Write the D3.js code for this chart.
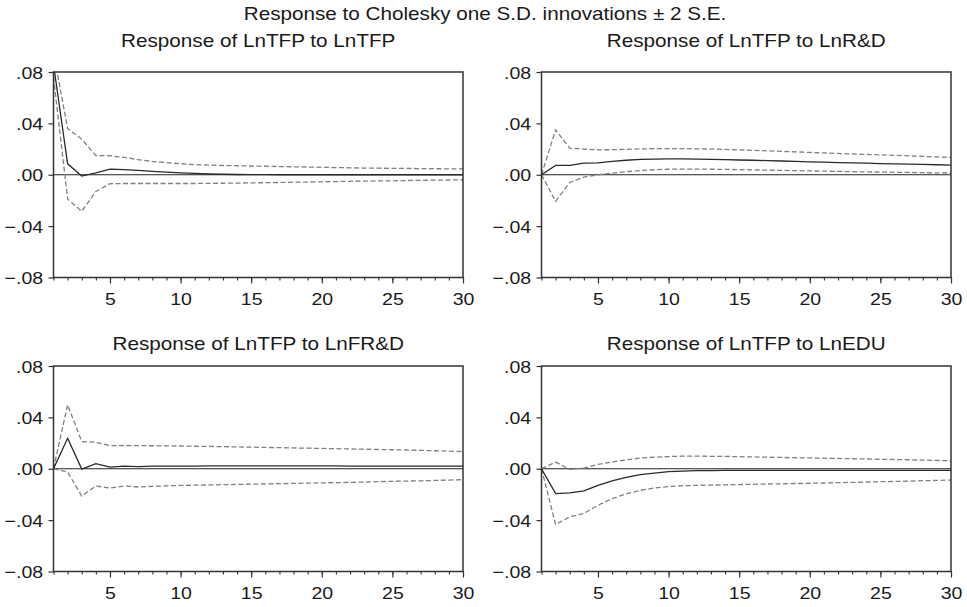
<!DOCTYPE html>
<html>
<head>
<meta charset="utf-8">
<script src="https://cdn.jsdelivr.net/npm/d3@7"></script>
<style>
  body { margin: 0; background: #fff; }
  svg text { font-family: "Liberation Sans", Arial, sans-serif; fill: #1a1a1a; }
</style>
</head>
<body>
<svg id="chart" width="967" height="607"></svg>
<script>
// periods 1..30 of the impulse response
const periods = d3.range(1, 31);
const yTicks = [0.08, 0.04, 0, -0.04, -0.08];
const xTicks = [5, 10, 15, 20, 25, 30];

const mainTitle = 'Response to Cholesky one S.D. innovations \u00b1 2 S.E.';
const panelTitles = [
    'Response of LnTFP to LnTFP',
    'Response of LnTFP to LnR&D',
    'Response of LnTFP to LnFR&D',
    'Response of LnTFP to LnEDU'
];

// LnTFP -> LnTFP
const tfpResp = [0.086, 0.0085, -0.001, 0.0015, 0.0044, 0.0040, 0.0034, 0.0027, 0.0020, 0.0014,
    0.0010, 0.0006, 0.0004, 0.0002, 0.0001, 0.0001, 0.0000, 0.0000, 0.0000, 0.0000,
    0.0000, 0.0000, 0.0000, 0.0000, 0.0000, 0.0000, 0.0000, 0.0000, 0.0000, 0.0000];
const tfpUpper = [0.095, 0.036, 0.0277, 0.0150, 0.0148, 0.0135, 0.0118, 0.0104, 0.0094, 0.0086,
    0.0079, 0.0075, 0.0072, 0.0070, 0.0068, 0.0066, 0.0064, 0.0062, 0.0060, 0.0058,
    0.0056, 0.0054, 0.0052, 0.0051, 0.0050, 0.0049, 0.0048, 0.0047, 0.0046, 0.0045];
const tfpLower = [0.076, -0.0189, -0.0285, -0.0130, -0.0070, -0.0068, -0.0068, -0.0068, -0.0068, -0.0068,
    -0.0068, -0.0067, -0.0066, -0.0065, -0.0063, -0.0062, -0.0060, -0.0058, -0.0057, -0.0055,
    -0.0053, -0.0051, -0.0050, -0.0048, -0.0047, -0.0045, -0.0044, -0.0042, -0.0041, -0.0039];

// LnTFP -> LnR&D
const rdResp = [0, 0.0073, 0.0073, 0.0090, 0.0093, 0.0104, 0.0113, 0.0119, 0.0122, 0.0124,
    0.0124, 0.0122, 0.0120, 0.0118, 0.0115, 0.0113, 0.0110, 0.0107, 0.0104, 0.0101,
    0.0098, 0.0095, 0.0092, 0.0090, 0.0087, 0.0085, 0.0082, 0.0080, 0.0078, 0.0075];
const rdUpper = [0, 0.0350, 0.0207, 0.0200, 0.0194, 0.0195, 0.0198, 0.0201, 0.0203, 0.0204,
    0.0204, 0.0202, 0.0200, 0.0197, 0.0194, 0.0190, 0.0186, 0.0182, 0.0178, 0.0174,
    0.0170, 0.0166, 0.0162, 0.0158, 0.0155, 0.0151, 0.0147, 0.0143, 0.0139, 0.0135];
const rdLower = [0, -0.0207, -0.0060, -0.0018, 0.0000, 0.0013, 0.0023, 0.0033, 0.0039, 0.0043,
    0.0044, 0.0044, 0.0043, 0.0042, 0.0040, 0.0038, 0.0036, 0.0034, 0.0032, 0.0030,
    0.0028, 0.0026, 0.0024, 0.0022, 0.0021, 0.0019, 0.0018, 0.0016, 0.0015, 0.0013];

// LnTFP -> LnFR&D
const frdResp = [0, 0.0237, -0.0003, 0.0039, 0.0013, 0.0020, 0.0017, 0.0020, 0.0020, 0.0021,
    0.0021, 0.0022, 0.0022, 0.0022, 0.0022, 0.0022, 0.0022, 0.0022, 0.0022, 0.0022,
    0.0022, 0.0021, 0.0021, 0.0021, 0.0021, 0.0021, 0.0021, 0.0020, 0.0020, 0.0020];
const frdUpper = [0, 0.0498, 0.0212, 0.0206, 0.0180, 0.0181, 0.0180, 0.0179, 0.0178, 0.0177,
    0.0175, 0.0174, 0.0172, 0.0170, 0.0168, 0.0166, 0.0164, 0.0162, 0.0160, 0.0158,
    0.0156, 0.0154, 0.0152, 0.0150, 0.0148, 0.0146, 0.0143, 0.0140, 0.0137, 0.0134];
const frdLower = [0, -0.0026, -0.0212, -0.0134, -0.0150, -0.0134, -0.0142, -0.0137, -0.0133, -0.0130,
    -0.0128, -0.0126, -0.0124, -0.0122, -0.0120, -0.0118, -0.0116, -0.0114, -0.0112, -0.0110,
    -0.0108, -0.0106, -0.0104, -0.0101, -0.0098, -0.0096, -0.0094, -0.0091, -0.0088, -0.0085];

// LnTFP -> LnEDU
const eduResp = [0, -0.0194, -0.0188, -0.0173, -0.0129, -0.0095, -0.0067, -0.0046, -0.0034, -0.0023,
    -0.0018, -0.0015, -0.0014, -0.0013, -0.0013, -0.0013, -0.0013, -0.0013, -0.0013, -0.0013,
    -0.0012, -0.0012, -0.0012, -0.0012, -0.0012, -0.0012, -0.0012, -0.0012, -0.0012, -0.0012];
const eduUpper = [0, 0.0052, -0.0005, 0.0005, 0.0034, 0.0052, 0.0070, 0.0083, 0.0090, 0.0095,
    0.0098, 0.0098, 0.0097, 0.0096, 0.0094, 0.0092, 0.0090, 0.0088, 0.0086, 0.0084,
    0.0082, 0.0080, 0.0078, 0.0076, 0.0074, 0.0072, 0.0070, 0.0067, 0.0065, 0.0062];
const eduLower = [0, -0.0434, -0.0374, -0.0348, -0.0284, -0.0232, -0.0196, -0.0168, -0.0150, -0.0139,
    -0.0132, -0.0129, -0.0127, -0.0125, -0.0123, -0.0121, -0.0119, -0.0117, -0.0115, -0.0113,
    -0.0111, -0.0108, -0.0106, -0.0104, -0.0101, -0.0099, -0.0096, -0.0093, -0.0091, -0.0088];

const seriesList = [
    [tfpResp, tfpUpper, tfpLower],
    [rdResp, rdUpper, rdLower],
    [frdResp, frdUpper, frdLower],
    [eduResp, eduUpper, eduLower]
];

// plot boxes (left, top) for the 2x2 grid
const panelBoxes = [
    {x: 53.5, y: 72},
    {x: 541.5, y: 72},
    {x: 53.5, y: 366},
    {x: 541.5, y: 366}
];
const plotW = 409.5;
const plotH = 205.5;
const titleBaselines = [47, 47, 350, 350];
const textStretch = 1.15; // the reference type is a bit wide

const svg = d3.select('#chart');

function stretchedText(sel, x, y, str, size) {
    sel.append('text')
        .attr('transform', `translate(${x},${y}) scale(${textStretch},1)`)
        .attr('text-anchor', 'middle')
        .style('font-size', size + 'px')
        .text(str);
}

stretchedText(svg, 485, 19.5, mainTitle, 18);

const fmtTick = d => {
    if (d === 0) return '.00';
    let s = Math.abs(d).toFixed(2).replace(/^0/, '');
    return d < 0 ? '\u2212' + s : s;
};

function styleTickText(sel, yPos) {
    sel.attr('dy', null).attr('y', yPos)
        .attr('transform', `scale(${textStretch},1)`)
        .style('font-size', '17px')
        .style('font-family', '"Liberation Sans", Arial, sans-serif')
        .attr('fill', '#1a1a1a');
}

function drawPanel(i) {
    const box = panelBoxes[i];
    const [resp, upper, lower] = seriesList[i];

    const x = d3.scaleLinear().domain([1, 30]).range([0, plotW]);
    const y = d3.scaleLinear().domain([-0.08, 0.08]).range([plotH, 0]);

    const g = svg.append('g').attr('transform', `translate(${box.x},${box.y})`);

    // clip so the period-1 spike runs off the top like the original
    g.append('clipPath').attr('id', 'clip' + i)
        .append('rect').attr('width', plotW).attr('height', plotH);

    stretchedText(svg, box.x + plotW / 2, titleBaselines[i], panelTitles[i], 18);

    // y axis
    const yAxis = g.append('g')
        .call(d3.axisLeft(y).tickValues(yTicks).tickSize(5).tickPadding(4).tickFormat(fmtTick));
    yAxis.select('.domain').remove();
    yAxis.selectAll('line').attr('stroke', '#333').attr('stroke-width', 1.2);
    styleTickText(yAxis.selectAll('text'), 6);

    // x axis: minor ticks every period, labelled majors every 5
    const xMinor = g.append('g').attr('transform', `translate(0,${plotH})`)
        .call(d3.axisBottom(x).tickValues(periods).tickSize(3).tickFormat(''));
    xMinor.select('.domain').remove();
    xMinor.selectAll('line').attr('stroke', '#333').attr('stroke-width', 1.1);

    const xMajor = g.append('g').attr('transform', `translate(0,${plotH})`)
        .call(d3.axisBottom(x).tickValues(xTicks).tickSize(6).tickPadding(0).tickFormat(d3.format('d')));
    xMajor.select('.domain').remove();
    xMajor.selectAll('line').attr('stroke', '#333').attr('stroke-width', 1.2);
    styleTickText(xMajor.selectAll('text'), 28);

    // zero line
    g.append('line')
        .attr('x1', 0).attr('x2', plotW)
        .attr('y1', y(0)).attr('y2', y(0))
        .attr('stroke', '#222').attr('stroke-width', 1.2);

    const line = d3.line()
        .x((d, j) => x(periods[j]))
        .y(d => y(d));

    const lines = g.append('g').attr('clip-path', `url(#clip${i})`);
    [upper, lower].forEach(s => {
        lines.append('path')
            .attr('d', line(s))
            .attr('fill', 'none')
            .attr('stroke', '#808080')
            .attr('stroke-width', 1.3)
            .attr('stroke-dasharray', '5,2.5');
    });
    lines.append('path')
        .attr('d', line(resp))
        .attr('fill', 'none')
        .attr('stroke', '#2a2a2a')
        .attr('stroke-width', 1.3);

    // frame
    g.append('rect')
        .attr('width', plotW).attr('height', plotH)
        .attr('fill', 'none')
        .attr('stroke', '#333')
        .attr('stroke-width', 1.5);
}

for (let i = 0; i < panelBoxes.length; i++) drawPanel(i);
</script>
</body>
</html>
